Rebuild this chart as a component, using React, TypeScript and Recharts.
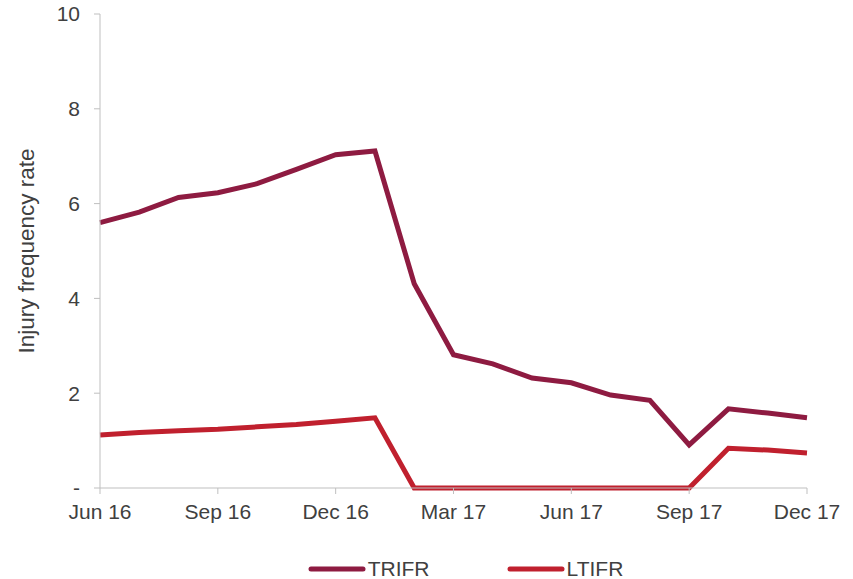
import React from 'react';
import { LineChart, Line, XAxis, YAxis, Legend } from 'recharts';

const months = [
  'Jun 16', 'Jul 16', 'Aug 16', 'Sep 16', 'Oct 16', 'Nov 16', 'Dec 16',
  'Jan 17', 'Feb 17', 'Mar 17', 'Apr 17', 'May 17', 'Jun 17', 'Jul 17',
  'Aug 17', 'Sep 17', 'Oct 17', 'Nov 17', 'Dec 17',
];
const trifr = [5.6, 5.82, 6.13, 6.23, 6.42, 6.72, 7.03, 7.11, 4.31, 2.81, 2.62, 2.32, 2.22, 1.96, 1.85, 0.91, 1.67, 1.58, 1.48];
const ltifr = [1.12, 1.17, 1.21, 1.24, 1.29, 1.34, 1.41, 1.48, 0, 0, 0, 0, 0, 0, 0, 0, 0.84, 0.8, 0.74];
const yTicks = [0, 2, 4, 6, 8, 10];

const data = months.map((m, i) => ({ month: m, TRIFR: trifr[i], LTIFR: ltifr[i] }));

const font = '"Liberation Sans", Arial, sans-serif';
const textColor = '#404040';
const axisColor = '#bfbfbf';

const series = [
  { key: 'TRIFR', color: '#8e1b41' },
  { key: 'LTIFR', color: '#c0202e' },
];

function ChartLegend() {
  return (
    <div style={{ display: 'flex', justifyContent: 'center', paddingLeft: 78, fontFamily: font, fontSize: 21, color: textColor }}>
      {series.map((s, i) => (
        <div key={s.key} style={{ display: 'flex', alignItems: 'center', marginLeft: i === 0 ? 0 : 77 }}>
          <svg width={58} height={10} style={{ marginRight: 2 }}>
            <line x1={3} y1={5} x2={55} y2={5} stroke={s.color} strokeWidth={5} strokeLinecap="round" />
          </svg>
          <span>{s.key}</span>
        </div>
      ))}
    </div>
  );
}

export default function App() {
  return (
    <div style={{ position: 'absolute', left: 0, top: 0, background: '#fff' }}>
      <LineChart width={853} height={579} data={data} margin={{ top: 14, right: 46, left: 0, bottom: 0 }}>
        <XAxis
          dataKey="month"
          interval={2}
          height={91}
          stroke={axisColor}
          tickSize={6}
          tickMargin={10}
          tick={{ fill: textColor, fontSize: 21, fontFamily: font }}
        />
        <YAxis
          width={100}
          domain={[0, 10]}
          ticks={yTicks}
          stroke={axisColor}
          tickSize={6}
          tickMargin={14}
          tickFormatter={(v: number) => (v === 0 ? '-' : String(v))}
          tick={{ fill: textColor, fontSize: 21, fontFamily: font }}
          label={{
            value: 'Injury frequency rate',
            angle: -90,
            position: 'insideLeft',
            offset: 0,
            dx: 26,
            style: { fill: textColor, fontSize: 22.5, fontFamily: font, textAnchor: 'middle' },
          }}
        />
        <Legend
          verticalAlign="middle"
          align="center"
          layout="horizontal"
          wrapperStyle={{ top: 557, left: 0, width: 853 }}
          content={() => <ChartLegend />}
        />
        {series.map((s) => (
          <Line
            key={s.key}
            type="linear"
            dataKey={s.key}
            stroke={s.color}
            strokeWidth={5}
            dot={false}
            activeDot={false}
            isAnimationActive={false}
          />
        ))}
      </LineChart>
    </div>
  );
}
